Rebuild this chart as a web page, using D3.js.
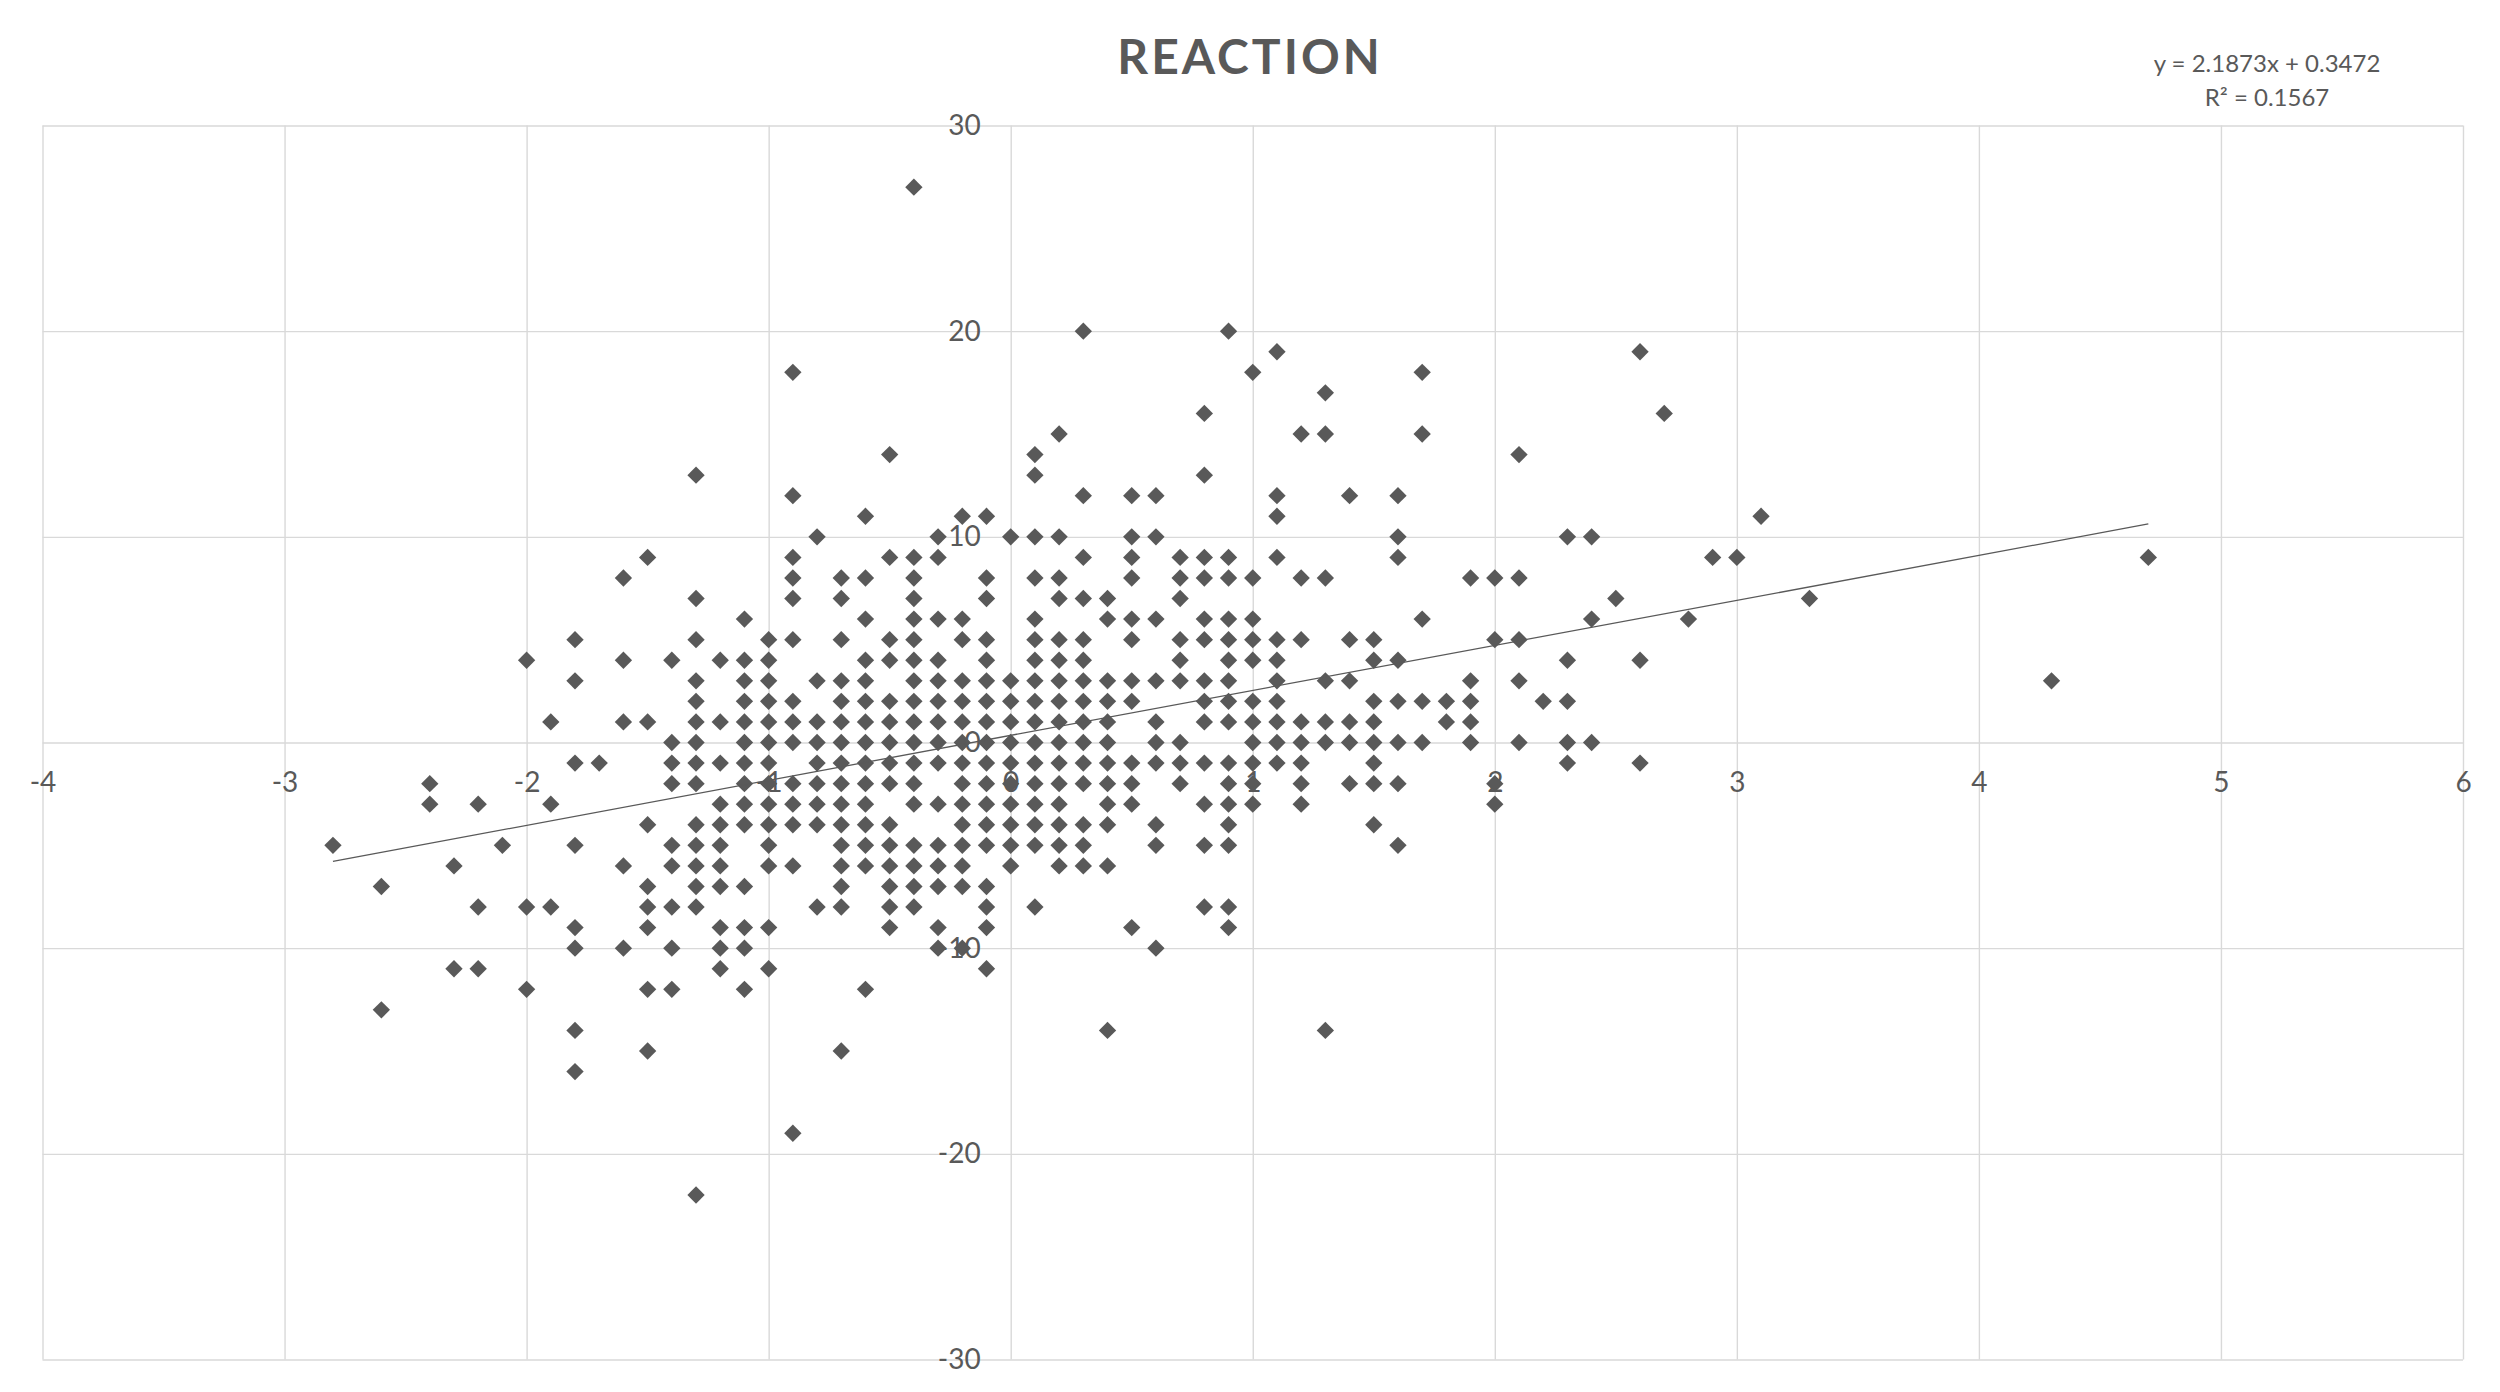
<!DOCTYPE html>
<html>
<head>
<meta charset="utf-8">
<script src="https://d3js.org/d3.v7.min.js"></script>
<style>
  body { margin: 0; background: #fff; }
  text { font-family: Lato, "Open Sans", sans-serif; fill: #595959; }
</style>
</head>
<body>
<div id="chart"></div>
<script>
// x positions of the point columns, and the y values found in each column
const columnX = [-2.8, -2.6, -2.4, -2.3, -2.2, -2.1, -2.0, -1.9, -1.8, -1.7, -1.6, -1.5, -1.4, -1.3, -1.2, -1.1, -1.0,
  -0.9, -0.8, -0.7, -0.6, -0.5, -0.4, -0.3, -0.2, -0.1, 0.0, 0.1, 0.2, 0.3, 0.4, 0.5, 0.6, 0.7, 0.8, 0.9, 1.0,
  1.1, 1.2, 1.3, 1.4, 1.5, 1.6, 1.7, 1.8, 1.9, 2.0, 2.1, 2.2, 2.3, 2.4, 2.5, 2.6, 2.7, 2.8, 2.9, 3.0, 3.1, 3.3, 4.3, 4.7];
const columnY = [
  [-5],
  [-7, -13],
  [-2, -3],
  [-6, -11],
  [-3, -8, -11],
  [-5],
  [4, -8, -12],
  [1, -3, -8],
  [5, 3, -1, -5, -9, -10, -14, -16],
  [-1],
  [8, 4, 1, -6, -10],
  [9, 1, -4, -7, -8, -9, -12, -15],
  [4, 0, -1, -2, -5, -6, -8, -10, -12],
  [13, 7, 5, 3, 2, 1, 0, -1, -2, -4, -5, -6, -7, -8, -22],
  [4, 1, -1, -3, -4, -5, -6, -7, -9, -10, -11],
  [6, 4, 3, 2, 1, 0, -1, -2, -3, -4, -7, -9, -10, -12],
  [5, 4, 3, 2, 1, 0, -1, -2, -3, -4, -5, -6, -9, -11],
  [18, 12, 9, 8, 7, 5, 2, 1, 0, -2, -3, -4, -6, -19],
  [10, 3, 1, 0, -1, -2, -3, -4, -8],
  [8, 7, 5, 3, 2, 1, 0, -1, -2, -3, -4, -5, -6, -7, -8, -15],
  [11, 8, 6, 4, 3, 2, 1, 0, -1, -2, -3, -4, -5, -6, -12],
  [14, 9, 5, 4, 2, 1, 0, -1, -2, -4, -5, -6, -7, -8, -9],
  [27, 9, 8, 7, 6, 5, 4, 3, 2, 1, 0, -1, -2, -3, -5, -6, -7, -8],
  [10, 9, 6, 4, 3, 2, 1, 0, -1, -3, -5, -6, -7, -9, -10],
  [11, 6, 5, 3, 2, 1, 0, -1, -2, -3, -4, -5, -6, -7, -10],
  [11, 8, 7, 5, 4, 3, 2, 1, 0, -1, -2, -3, -4, -5, -7, -8, -9, -11],
  [10, 3, 2, 1, 0, -1, -2, -3, -4, -5, -6],
  [14, 13, 10, 8, 6, 5, 4, 3, 2, 1, 0, -1, -2, -3, -4, -5, -8],
  [15, 10, 8, 7, 5, 4, 3, 2, 1, 0, -1, -2, -3, -4, -5, -6],
  [20, 12, 9, 7, 5, 4, 3, 2, 1, 0, -1, -2, -4, -5, -6],
  [7, 6, 3, 2, 1, 0, -1, -2, -3, -4, -6, -14],
  [12, 10, 9, 8, 6, 5, 3, 2, -1, -2, -3, -9],
  [12, 10, 6, 3, 1, 0, -1, -4, -5, -10],
  [9, 8, 7, 5, 4, 3, 0, -1, -2],
  [16, 13, 9, 8, 6, 5, 3, 2, 1, -1, -3, -5, -8],
  [20, 9, 8, 6, 5, 4, 3, 2, 1, -1, -2, -3, -4, -5, -8, -9],
  [18, 8, 6, 5, 4, 2, 1, 0, -1, -2, -3],
  [19, 12, 11, 9, 5, 4, 3, 2, 1, 0, -1],
  [15, 8, 5, 1, 0, -1, -2, -3],
  [17, 15, 8, 3, 1, 0, -14],
  [12, 5, 3, 1, 0, -2],
  [5, 4, 2, 1, 0, -1, -2, -4],
  [12, 10, 9, 4, 2, 0, -2, -5],
  [18, 15, 6, 2, 0],
  [2, 1],
  [8, 3, 2, 1, 0],
  [8, 5, -2, -3],
  [14, 8, 5, 3, 0],
  [2],
  [10, 4, 2, 0, -1],
  [10, 6, 0],
  [7],
  [19, 4, -1],
  [16],
  [6],
  [9],
  [9],
  [11],
  [7],
  [3],
  [9]
];

// linear trendline as printed on the chart
const trendSlope = 2.1873;
const trendIntercept = 0.3472;
const trendR2 = 0.1567;
const trendRange = [-2.8, 4.7];

const xTicks = [-4, -3, -2, -1, 0, 1, 2, 3, 4, 5, 6];
const yTicks = [-30, -20, -10, 0, 10, 20, 30];
const chartTitle = "REACTION";

const W = 2500, H = 1392;
const margin = {top: 125.5, right: 37, bottom: 32.5, left: 42.5},
      width = W - margin.left - margin.right,
      height = H - margin.top - margin.bottom;

const points = [];
columnX.forEach((cx, i) => columnY[i].forEach(v => points.push({x: cx, y: v})));

const root = d3.select("#chart")
  .append("svg")
  .attr("width", W)
  .attr("height", H);

const svg = root.append("g")
  .attr("transform", `translate(${margin.left}, ${margin.top})`);

const x = d3.scaleLinear().domain([-4, 6]).range([0, width]);
const y = d3.scaleLinear().domain([-30, 30]).range([height, 0]);

// gridlines
svg.append("g")
  .attr("class", "grid")
  .call(d3.axisBottom(x).tickValues(xTicks).tickSize(height).tickFormat(""))
  .call(g => g.select(".domain").remove());
svg.append("g")
  .attr("class", "grid")
  .call(d3.axisLeft(y).tickValues(yTicks).tickSize(-width).tickFormat(""))
  .call(g => g.select(".domain").remove());
svg.selectAll(".grid line")
  .attr("stroke", "#d9d9d9")
  .attr("stroke-width", 1.4);

// markers
svg.append("g")
  .selectAll("path")
  .data(points)
  .join("path")
  .attr("d", d3.symbol().type(d3.symbolSquare).size(150))
  .attr("transform", d => `translate(${x(d.x)}, ${y(d.y)}) rotate(45)`)
  .attr("fill", "#595959");

// trendline
svg.append("path")
  .datum(trendRange.map(v => ({x: v, y: trendSlope * v + trendIntercept})))
  .attr("fill", "none")
  .attr("stroke", "#595959")
  .attr("stroke-width", 1.3)
  .attr("d", d3.line().x(d => x(d.x)).y(d => y(d.y)));

// axis labels, crossing at 0 (plain hyphen for negatives)
const plain = d => String(d);
svg.append("g")
  .attr("transform", `translate(0, ${y(0)})`)
  .call(d3.axisBottom(x).tickValues(xTicks).tickSize(0).tickPadding(30).tickFormat(plain))
  .call(g => g.select(".domain").remove())
  .selectAll("text")
  .style("font-size", "28px");
svg.append("g")
  .attr("transform", `translate(${x(0)}, 0)`)
  .call(d3.axisLeft(y).tickValues(yTicks).tickSize(0).tickPadding(30).tickFormat(plain))
  .call(g => g.select(".domain").remove())
  .selectAll("text")
  .style("font-size", "28px");
svg.selectAll(".tick text").attr("fill", "#595959");

// title
root.append("text")
  .attr("x", W / 2)
  .attr("y", 74)
  .attr("text-anchor", "middle")
  .style("font-size", "48px")
  .style("font-weight", "bold")
  .style("letter-spacing", "3px")
  .text(chartTitle);

// trendline equation
const eq = root.append("text")
  .attr("text-anchor", "middle")
  .style("font-size", "24px");
eq.append("tspan").attr("x", 2267).attr("y", 72)
  .text(`y = ${trendSlope}x + ${trendIntercept}`);
eq.append("tspan").attr("x", 2267).attr("y", 106)
  .text(`R² = ${trendR2}`);
</script>
</body>
</html>
